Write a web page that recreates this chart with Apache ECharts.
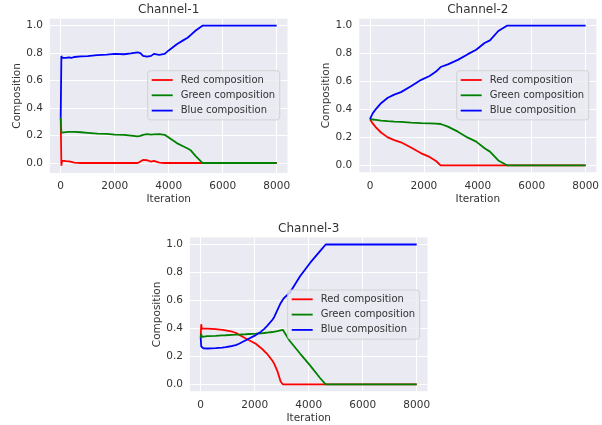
<!DOCTYPE html>
<html>
<head>
<meta charset="utf-8">
<script src="https://cdn.jsdelivr.net/npm/echarts@6/dist/echarts.min.js"></script>
<style>html,body{margin:0;padding:0;background:#fff}#c{width:602px;height:425px}</style>
</head>
<body>
<div id="c"></div>
<script>
// ---- data ----
const seriesNames = ['Red composition', 'Green composition', 'Blue composition'];
const channelTitles = ['Channel-1', 'Channel-2', 'Channel-3'];
const xTicks = [0, 2000, 4000, 6000, 8000];
const yTicks = [0, 0.2, 0.4, 0.6, 0.8, 1.0];

const ch1Iter  = [0, 25, 50, 100, 200, 300, 400, 500, 750, 1000, 1350, 1700, 2000, 2350, 2600, 2850, 2950, 3050, 3200, 3350, 3450, 3650, 3850, 4000, 4300, 4550, 4700, 4800, 5000, 5250, 6000, 7000, 8000];
const ch1Red   = [0.33, -0.02, 0.017, 0.015, 0.013, 0.012, 0.008, 0.003, 0, 0, 0, 0, 0, 0, 0, 0, 0.01, 0.022, 0.02, 0.01, 0.015, 0.003, 0, 0, 0, 0, 0, 0, 0, 0, 0, 0, 0];
const ch1Green = [0.33, 0.22, 0.222, 0.223, 0.225, 0.227, 0.226, 0.226, 0.224, 0.22, 0.214, 0.212, 0.206, 0.205, 0.2, 0.194, 0.198, 0.205, 0.21, 0.206, 0.208, 0.21, 0.205, 0.185, 0.145, 0.12, 0.105, 0.095, 0.05, 0, 0, 0, 0];
const ch1Blue  = [0.33, 0.78, 0.765, 0.768, 0.765, 0.77, 0.765, 0.772, 0.777, 0.779, 0.785, 0.79, 0.795, 0.792, 0.798, 0.805, 0.8, 0.78, 0.775, 0.78, 0.795, 0.787, 0.795, 0.82, 0.865, 0.895, 0.912, 0.93, 0.965, 1, 1, 1, 1];

const ch2Iter  = [0, 100, 220, 410, 660, 900, 1150, 1520, 1900, 2210, 2450, 2620, 2890, 3260, 3630, 3940, 4250, 4450, 4760, 5080, 6000, 7000, 8000];
const ch2Red   = [0.33, 0.3, 0.272, 0.235, 0.2, 0.181, 0.165, 0.128, 0.086, 0.06, 0.031, 0, 0, 0, 0, 0, 0, 0, 0, 0, 0, 0, 0];
const ch2Green = [0.33, 0.328, 0.325, 0.32, 0.316, 0.313, 0.311, 0.306, 0.302, 0.3, 0.298, 0.296, 0.277, 0.241, 0.198, 0.17, 0.122, 0.098, 0.035, 0, 0, 0, 0];
const ch2Blue  = [0.33, 0.372, 0.403, 0.445, 0.484, 0.506, 0.524, 0.566, 0.612, 0.64, 0.671, 0.704, 0.723, 0.755, 0.796, 0.828, 0.876, 0.895, 0.962, 1, 1, 1, 1];

const ch3Iter  = [0, 20, 40, 100, 250, 550, 800, 925, 1170, 1300, 1420, 1670, 2040, 2220, 2345, 2470, 2650, 2720, 2840, 2960, 3040, 3100, 3300, 3680, 4050, 4420, 4630, 6000, 7000, 8000];
const ch3Red   = [0.333, 0.43, 0.40, 0.40, 0.398, 0.394, 0.39, 0.386, 0.376, 0.368, 0.355, 0.328, 0.29, 0.262, 0.24, 0.215, 0.17, 0.148, 0.095, 0.02, 0, 0, 0, 0, 0, 0, 0, 0, 0, 0];
const ch3Green = [0.333, 0.36, 0.34, 0.342, 0.345, 0.347, 0.35, 0.351, 0.354, 0.355, 0.356, 0.358, 0.362, 0.365, 0.367, 0.37, 0.374, 0.376, 0.38, 0.386, 0.39, 0.38, 0.31, 0.22, 0.135, 0.045, 0, 0, 0, 0];
const ch3Blue  = [0.333, 0.27, 0.262, 0.258, 0.256, 0.259, 0.263, 0.266, 0.274, 0.28, 0.29, 0.315, 0.352, 0.375, 0.395, 0.42, 0.46, 0.48, 0.53, 0.58, 0.605, 0.62, 0.655, 0.773, 0.868, 0.952, 1, 1, 1, 1];

// ---- layout / style ----
const FONT = 'DejaVu Sans';
const TXT = '#333333';
const colors = ['#ff0000', '#008000', '#0000ff'];
const grids = [
  {left: 49.9, top: 18.7, width: 237.6, height: 154.3},
  {left: 359.2, top: 18.7, width: 237.3, height: 153.6},
  {left: 189.9, top: 237.5, width: 237.6, height: 153.8}
];
const yRanges = [[-0.073, 1.051], [-0.05, 1.05], [-0.05, 1.05]];
const channels = [
  [ch1Iter, ch1Red, ch1Green, ch1Blue],
  [ch2Iter, ch2Red, ch2Green, ch2Blue],
  [ch3Iter, ch3Red, ch3Green, ch3Blue]
];
const legendPos = [[147.7, 70.7], [456.7, 70.7], [287.7, 290]];

const option = {
  animation: false,
  backgroundColor: '#ffffff',
  title: channelTitles.map((t, i) => ({
    text: t,
    left: grids[i].left + grids[i].width / 2,
    top: grids[i].top - 15,
    textAlign: 'center',
    textVerticalAlign: 'top',
    padding: 0,
    textStyle: {fontSize: 12, fontWeight: 'normal', color: TXT, fontFamily: FONT}
  })),
  grid: grids.map(g => Object.assign({
    show: true, backgroundColor: '#eaeaf2', borderWidth: 0, containLabel: false
  }, g)),
  xAxis: grids.map((g, i) => ({
    type: 'value', gridIndex: i, min: -400, max: 8400,
    name: 'Iteration', nameLocation: 'middle', nameGap: 21,
    nameTextStyle: {fontSize: 10.5, color: TXT, fontFamily: FONT},
    axisLine: {show: false},
    axisTick: {show: false, customValues: xTicks},
    axisLabel: {customValues: xTicks, fontSize: 10.5, color: TXT, fontFamily: FONT, margin: 8,
      formatter: v => String(v)},
    splitLine: {show: true, lineStyle: {color: '#ffffff', width: 1}}
  })),
  yAxis: grids.map((g, i) => ({
    type: 'value', gridIndex: i, min: yRanges[i][0], max: yRanges[i][1],
    name: 'Composition', nameLocation: 'middle', nameGap: 26.5, nameRotate: 90,
    nameTextStyle: {fontSize: 10.5, color: TXT, fontFamily: FONT},
    axisLine: {show: false},
    axisTick: {show: false, customValues: yTicks},
    axisLabel: {customValues: yTicks, fontSize: 10.5, color: TXT, fontFamily: FONT, margin: 7,
      formatter: v => v.toFixed(1)},
    splitLine: {show: true, lineStyle: {color: '#ffffff', width: 1}}
  })),
  legend: legendPos.map(p => ({
    left: p[0], top: p[1], orient: 'vertical', data: seriesNames,
    icon: 'rect', itemWidth: 21, itemHeight: 1.8, itemGap: 3.3,
    padding: [3.3, 4.6, 3.3, 4],
    backgroundColor: 'rgba(234,234,242,0.8)',
    borderColor: 'rgba(204,204,204,0.8)', borderWidth: 1, borderRadius: 3,
    selectedMode: false,
    textStyle: {fontSize: 10, lineHeight: 12, color: TXT, fontFamily: FONT, padding: [0, 0, 0, 3]}
  })),
  series: []
};

channels.forEach((ch, gi) => {
  const it = ch[0];
  for (let s = 0; s < 3; s++) {
    option.series.push({
      type: 'line', name: seriesNames[s], xAxisIndex: gi, yAxisIndex: gi,
      data: it.map((x, k) => [x, ch[s + 1][k]]),
      showSymbol: false, symbol: 'none',
      color: colors[s],
      lineStyle: {color: colors[s], width: 1.8},
      z: 2
    });
  }
});

const chart = echarts.init(document.getElementById('c'), null, {renderer: 'canvas'});
chart.setOption(option);
</script>
</body>
</html>
